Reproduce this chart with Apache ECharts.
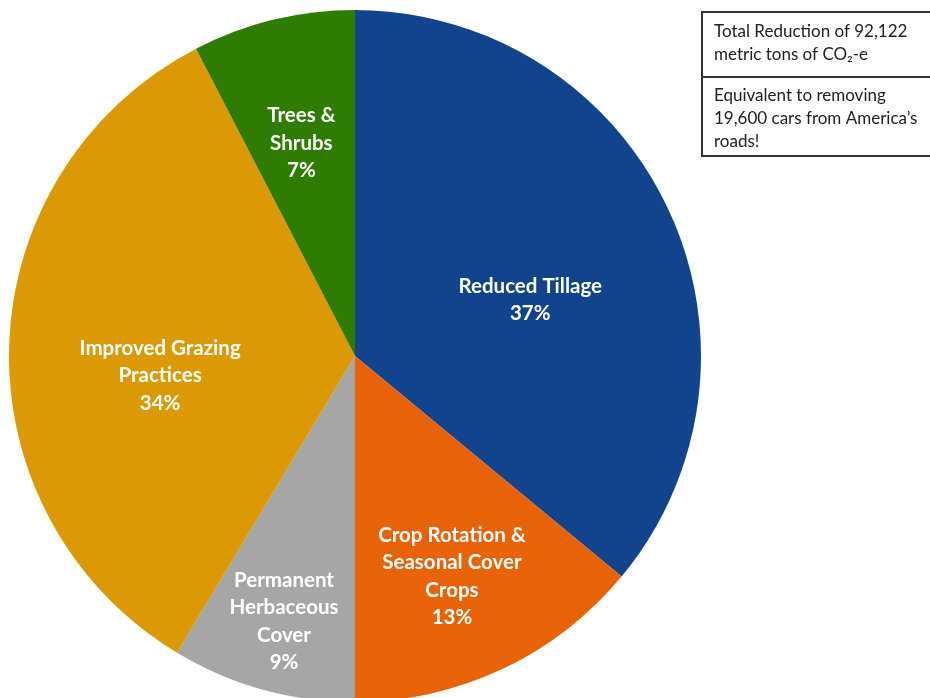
<!DOCTYPE html>
<html><head><meta charset="utf-8">
<script src="https://cdn.jsdelivr.net/npm/echarts@6/dist/echarts.min.js"></script>
<style>html,body{margin:0;padding:0;background:#fff}#c{width:930px;height:698px}</style>
</head><body><div id="c"></div>
<script>
// Data
const categories = ['Reduced Tillage', 'Crop Rotation &\nSeasonal Cover\nCrops', 'Permanent\nHerbaceous\nCover', 'Improved Grazing\nPractices', 'Trees &\nShrubs'];
const values = [36.0, 14.0, 8.6, 33.8, 7.6];
const percentLabels = ['37%', '13%', '9%', '34%', '7%'];
const colors = ['#12448E', '#E86307', '#A6A6A6', '#DB9A05', '#2F7C02'];
const noteLines1 = ['Total Reduction of 92,122', 'metric tons of CO₂-e'];
const noteLines2 = ['Equivalent to removing', '19,600 cars from America’s', 'roads!'];

// layout (label offsets from default inside position)
const labelOffsets = [[16, 19], [22, 61], [-24, 96], [-19, 25], [-12, -42]];

const chart = echarts.init(document.getElementById('c'), null, {renderer: 'canvas'});
const data = categories.map((n, i) => ({
  name: n, value: values[i],
  itemStyle: {color: colors[i]},
  label: {offset: labelOffsets[i]}
}));
const font = 'Lato, "Open Sans", sans-serif';
chart.setOption({
  animation: false,
  series: [{
    type: 'pie',
    center: [355, 356],
    radius: [0, 346],
    startAngle: 90,
    clockwise: true,
    avoidLabelOverlap: false,
    data: data,
    itemStyle: {borderWidth: 0},
    label: {
      show: true, position: 'inside',
      color: '#fff', fontWeight: 'bold', fontSize: 20.5, lineHeight: 27.5,
      fontFamily: font, align: 'center',
      formatter: p => p.name + '\n' + percentLabels[p.dataIndex]
    },
    labelLine: {show: false},
    emphasis: {disabled: true}
  }],
  graphic: [
    {type: 'rect', shape: {x: 702, y: 12, width: 260, height: 65}, style: {fill: '#fff', stroke: '#333', lineWidth: 2}},
    {type: 'rect', shape: {x: 702, y: 77, width: 260, height: 79}, style: {fill: '#fff', stroke: '#333', lineWidth: 2}},
    {type: 'text', left: 714, top: 20, style: {text: noteLines1.join('\n'), fill: '#222', font: '17px ' + font, lineHeight: 23}},
    {type: 'text', left: 714, top: 84, style: {text: noteLines2.join('\n'), fill: '#222', font: '17px ' + font, lineHeight: 23}}
  ]
});
</script></body></html>
